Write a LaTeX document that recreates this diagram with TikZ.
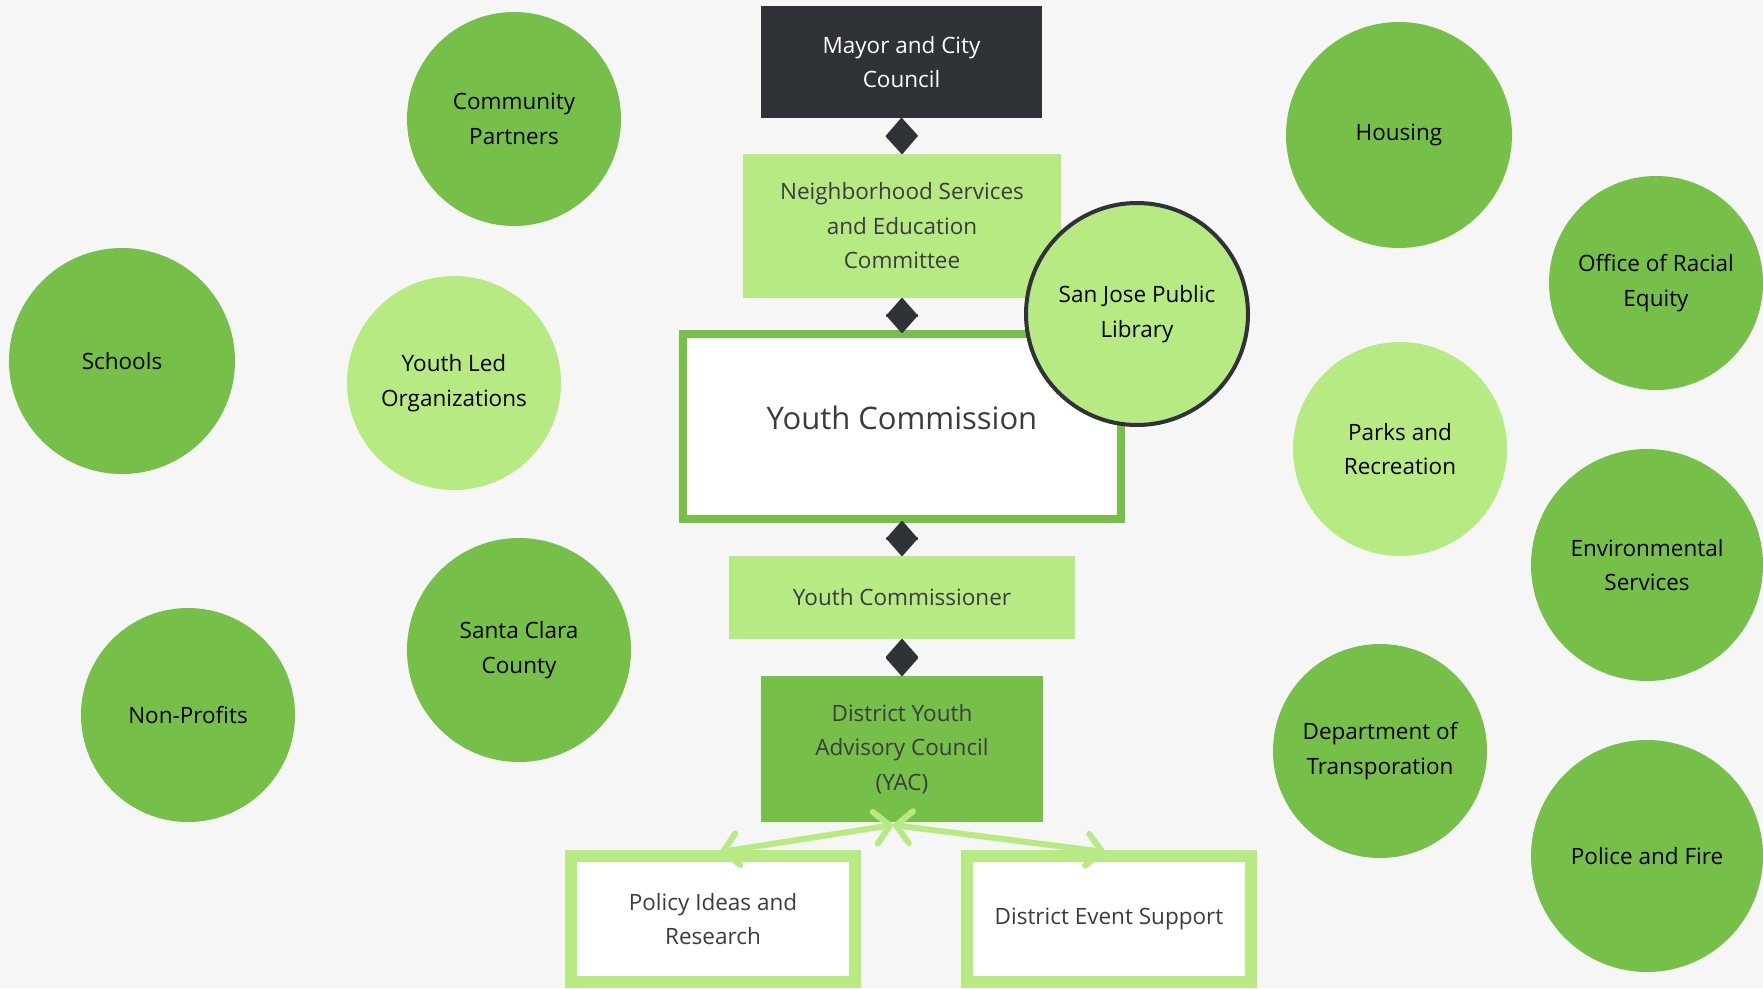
\documentclass[tikz,border=0pt]{standalone}
\usepackage{fontspec}
\setmainfont{Open Sans}
\usetikzlibrary{arrows.meta}
\definecolor{bg}{RGB}{246,246,246}
\definecolor{midgreen}{RGB}{118,192,74}
\definecolor{lightgreen}{RGB}{184,234,132}
\definecolor{darkbox}{RGB}{47,50,55}
\definecolor{boxtext}{RGB}{58,60,64}
\begin{document}
\begin{tikzpicture}[x=1pt,y=-1pt,
  txt/.style={font=\fontsize{22.5}{34.5}\selectfont},
  boxbase/.style={rectangle, inner sep=0pt, outer sep=0pt, align=center, txt, text=boxtext},
  circ/.style={circle, inner sep=0pt, outer sep=0pt, align=center, txt, text=black},
  midcirc/.style={circ, fill=midgreen},
  lightcirc/.style={circ, fill=lightgreen},
  link/.style={draw=darkbox, fill=darkbox, line width=2pt,
    {Triangle[length=19.5pt,width=34pt,round]}-{Triangle[length=19.5pt,width=34pt,round]}},
  branch/.style={draw=lightgreen, line width=6pt, line cap=round,
    {Straight Barb[length=15pt,width=32pt,round]}-{Straight Barb[length=15pt,width=32pt,round]}}
]
\fill[bg] (0,0) rectangle (1763,988);
\useasboundingbox (0,0) rectangle (1763,988);

% central column
\node[boxbase, fill=darkbox, text=white, minimum width=281pt, minimum height=112pt] (mayor) at (901.5,62) {Mayor and City\\Council};
\node[boxbase, fill=lightgreen, minimum width=318pt, minimum height=144pt] (nsec) at (902,226) {Neighborhood Services\\and Education\\Committee};
\node[boxbase, fill=white, draw=midgreen, line width=8pt, minimum width=438pt, minimum height=185pt,
      font=\fontsize{31}{40}\selectfont] (yc) at (902,426.5) {\smash{\raisebox{-2.5pt}{Youth Commission}}};
\node[boxbase, fill=lightgreen, minimum width=346pt, minimum height=83pt] (ycr) at (902,597.5) {Youth Commissioner};
\node[boxbase, fill=midgreen, minimum width=282pt, minimum height=146pt] (yac) at (902,749) {District Youth\\Advisory Council\\(YAC)};
\node[boxbase, fill=white, draw=lightgreen, line width=12pt, minimum width=284pt, minimum height=126pt] (policy) at (713,919) {Policy Ideas and\\Research};
\node[boxbase, fill=white, draw=lightgreen, line width=12pt, minimum width=284pt, minimum height=126pt] (event) at (1109,919) {District Event Support};

\node[circ, fill=lightgreen, draw=darkbox, line width=4pt, minimum size=222pt] (library) at (1137,314) {San Jose Public\\Library};

% left circles
\node[midcirc, minimum size=214pt] (compart) at (514,119) {Community\\Partners};
\node[midcirc, minimum size=226pt] (schools) at (122,361) {Schools};
\node[lightcirc, minimum size=214pt] (youthled) at (454,383) {Youth Led\\Organizations};
\node[midcirc, minimum size=224pt] (santaclara) at (519,650) {Santa Clara\\County};
\node[midcirc, minimum size=214pt] (nonprofits) at (188,715) {Non-Profits};

% right circles
\node[midcirc, minimum size=226pt] (housing) at (1399,135) {Housing};
\node[midcirc, minimum size=214pt] (racial) at (1656,283) {Office of Racial\\Equity};
\node[lightcirc, minimum size=214pt] (parks) at (1400,449) {Parks and\\Recreation};
\node[midcirc, minimum size=232pt] (envserv) at (1647,565) {Environmental\\Services};
\node[midcirc, minimum size=214pt] (transport) at (1380,751) {Department of\\Transporation};
\node[midcirc, minimum size=232pt] (police) at (1647,856) {Police and Fire};

% connectors
\draw[link] (mayor.south) -- (nsec.north);
\draw[link] (nsec.south) -- ([yshift=1pt]yc.north);
\draw[link] ([yshift=-2pt]yc.south) -- (ycr.north);
\draw[link] (ycr.south) -- (yac.north);

\coordinate (split) at (893,825);
\draw[branch] (split) -- ([shift={(7,-4)}]policy.north);
\draw[branch] (split) -- ([shift={(-4,-4)}]event.north);
\end{tikzpicture}
\end{document}
